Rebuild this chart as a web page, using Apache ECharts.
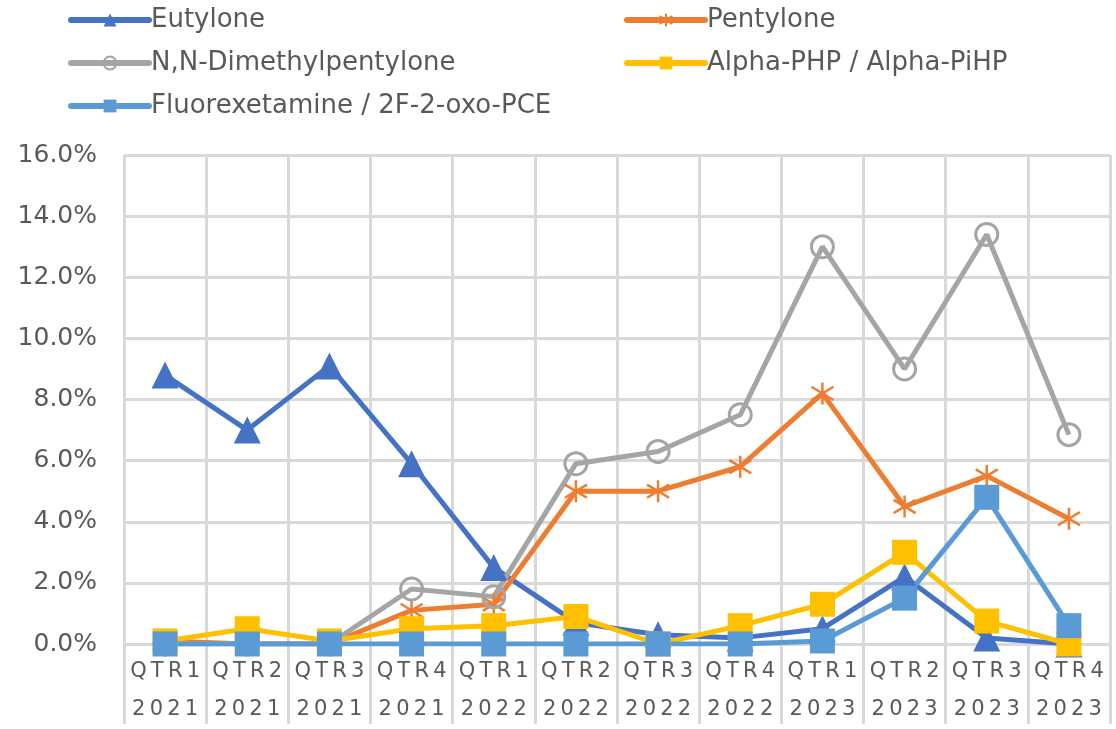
<!DOCTYPE html>
<html>
<head>
<meta charset="utf-8">
<script src="https://cdn.jsdelivr.net/npm/echarts@6/dist/echarts.min.js"></script>
<style>
html,body{margin:0;padding:0;background:#fff;overflow:hidden;}
#chart{width:1116px;height:729px;}
</style>
</head>
<body>
<div id="chart"></div>
<script>
const quarters = ['QTR1','QTR2','QTR3','QTR4','QTR1','QTR2','QTR3','QTR4','QTR1','QTR2','QTR3','QTR4'];
const years = ['2021','2021','2021','2021','2022','2022','2022','2022','2023','2023','2023','2023'];
const yTicks = [0, 2, 4, 6, 8, 10, 12, 14, 16];

const eutylone = [8.8, 7.0, 9.1, 5.9, 2.5, 0.7, 0.3, 0.2, 0.5, 2.2, 0.2, 0.0];
const pentylone = [0.1, 0.0, 0.0, 1.1, 1.3, 5.0, 5.0, 5.8, 8.2, 4.5, 5.5, 4.1];
const nnDmp = [0.0, 0.0, 0.0, 1.8, 1.55, 5.9, 6.3, 7.5, 13.0, 9.0, 13.4, 6.85];
const alphaPhp = [0.1, 0.5, 0.1, 0.5, 0.6, 0.9, 0.0, 0.6, 1.3, 3.0, 0.75, 0.0];
const fluorex = [0.0, 0.0, 0.0, 0.0, 0.0, 0.0, 0.0, 0.0, 0.1, 1.5, 4.8, 0.6];

const seriesNames = ['Eutylone','Pentylone','N,N-Dimethylpentylone','Alpha-PHP / Alpha-PiHP','Fluorexetamine / 2F-2-oxo-PCE'];

const FONT = 'DejaVu Sans';
const TXT = '#595959';
const GRIDC = '#d9d9d9';
const spaced = s => s.split('').join('\u2009');

const chart = echarts.init(document.getElementById('chart'), null, {renderer:'canvas'});

function legendAt(name, left, top) {
  return {
    data: [name], left: left, top: top, orient: 'horizontal',
    itemWidth: 78, itemHeight: 16, itemGap: 0,
    lineStyle: {width: 6, cap: 'round'},
    textStyle: {fontFamily: FONT, fontSize: 26, color: TXT, padding: [0,0,0,-3]},
    padding: 0
  };
}

const asterisk = 'path://M10,0 L10,20 M1,4 L19,16 M1,16 L19,4';

chart.setOption({
  animation: false,
  backgroundColor: '#fff',
  legend: [
    legendAt(seriesNames[0], 68, 7),
    legendAt(seriesNames[1], 624, 7),
    legendAt(seriesNames[2], 68, 50),
    legendAt(seriesNames[3], 624, 50),
    legendAt(seriesNames[4], 68, 93)
  ],
  grid: {left: 124, right: 6, top: 155, bottom: 79, containLabel: false},
  xAxis: {
    type: 'category',
    data: quarters,
    boundaryGap: true,
    axisLine: {show: true, lineStyle: {color: GRIDC, width: 3}},
    axisTick: {show: true, length: 80, alignWithLabel: false, lineStyle: {color: GRIDC, width: 3}},
    splitLine: {show: true, lineStyle: {color: GRIDC, width: 3}},
    axisLabel: {
      interval: 0, margin: 9, fontFamily: FONT, fontSize: 21, color: TXT, lineHeight: 38,
      formatter: (v, i) => spaced(v) + '\n' + spaced(years[i])
    }
  },
  yAxis: {
    type: 'value', min: yTicks[0], max: yTicks[yTicks.length-1], interval: 2,
    axisLine: {show: false}, axisTick: {show: false},
    splitLine: {show: true, lineStyle: {color: GRIDC, width: 3}},
    axisLabel: {margin: 27, fontFamily: FONT, fontSize: 25, color: TXT,
      formatter: v => v.toFixed(1) + '%'}
  },
  series: [
    {name: seriesNames[0], type: 'line', data: eutylone, symbol: 'triangle', symbolSize: 27,
      lineStyle: {color: '#4472c4', width: 5}, itemStyle: {color: '#4472c4'}},
    {name: seriesNames[1], type: 'line', data: pentylone, symbol: asterisk, symbolSize: 22,
      lineStyle: {color: '#ed7d31', width: 5},
      itemStyle: {color: 'rgba(0,0,0,0)', borderColor: '#ed7d31', borderWidth: 2.5}},
    {name: seriesNames[2], type: 'line', data: nnDmp, symbol: 'circle', symbolSize: 22,
      lineStyle: {color: '#a5a5a5', width: 5},
      itemStyle: {color: 'rgba(255,255,255,0)', borderColor: '#a5a5a5', borderWidth: 3}},
    {name: seriesNames[3], type: 'line', data: alphaPhp, symbol: 'rect', symbolSize: 25,
      lineStyle: {color: '#ffc000', width: 5}, itemStyle: {color: '#ffc000'}},
    {name: seriesNames[4], type: 'line', data: fluorex, symbol: 'rect', symbolSize: 25,
      lineStyle: {color: '#5b9bd5', width: 5}, itemStyle: {color: '#5b9bd5'}}
  ]
});
</script>
</body>
</html>
